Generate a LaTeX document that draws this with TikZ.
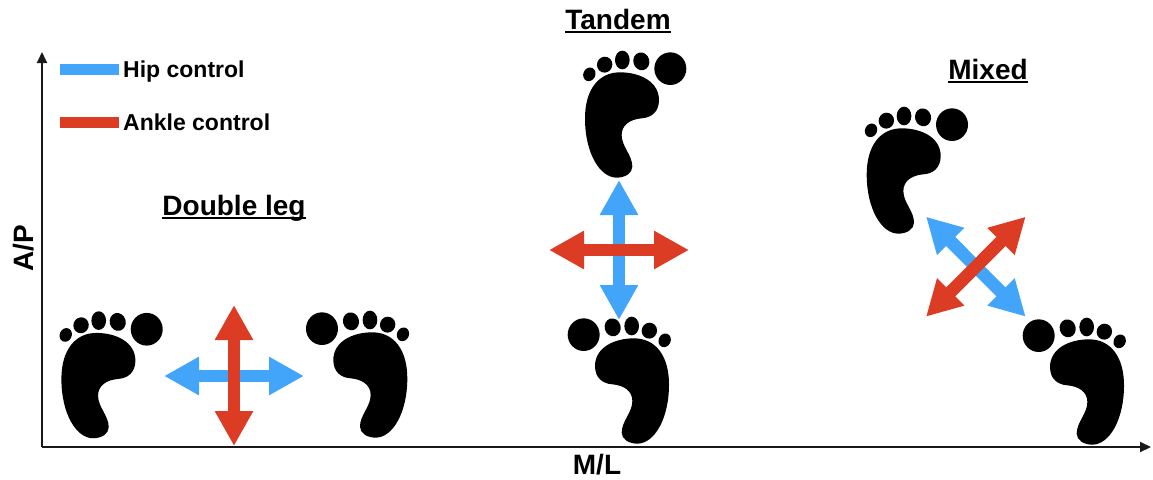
\documentclass[tikz,border=0pt]{standalone}
\usepackage{fontspec}
\setmainfont{Liberation Sans}
\usetikzlibrary{arrows.meta}
\definecolor{hipblue}{HTML}{42A5F9}
\definecolor{ankred}{HTML}{DC3C24}
\newcommand{\ulinetext}[1]{\setbox0=\hbox{#1}\rlap{\rule[-3.6pt]{\wd0}{1.5pt}}\box0 }
\tikzset{
  foot/.pic={
   \begin{scope}[#1]
    \fill[black] (240,97) .. controls (300,97) and (357,125) .. (357,180)
      .. controls (357,215) and (335,233) .. (305,235)
      .. controls (270,238) and (245,255) .. (245,285)
      .. controls (245,320) and (277,345) .. (277,380)
      .. controls (277,400) and (255,413) .. (230,413)
      .. controls (180,413) and (135,340) .. (135,235)
      .. controls (135,150) and (175,97) .. (240,97) -- cycle;
    \fill[black,rotate around={-25:(148,103)}] (148,103) ellipse [x radius=18,y radius=21];
    \fill[black,rotate around={-20:(194,74)}] (194,74) ellipse [x radius=23,y radius=24];
    \fill[black] (247,60) ellipse [x radius=22,y radius=28];
    \fill[black,rotate around={15:(304,64)}] (304,64) ellipse [x radius=24,y radius=27];
    \fill[black] (391,86) ellipse [x radius=48,y radius=49];
   \end{scope}
  },
  leftfoot/.style={x=0.3333pt,y=-0.3333pt},
  rightfoot/.style={x=-0.3333pt,y=-0.3333pt},
  dbl/.style={line width=12.8pt,{Triangle[length=35pt,width=36pt]}-{Triangle[length=35pt,width=36pt]}},
  hip/.style={dbl,draw=hipblue},
  ankle/.style={dbl,draw=ankred},
  axis/.style={draw=black!90,line width=2pt,-{Triangle[length=11pt,width=10pt]}},
  legendbar/.style={minimum width=59pt,minimum height=11.5pt,inner sep=0pt,outer sep=0pt},
  legendtext/.style={anchor=base west,inner sep=0pt,font=\fontsize{23}{26}\selectfont\bfseries},
  title/.style={anchor=base,inner sep=0pt,font=\fontsize{28}{30}\selectfont\bfseries},
  axlabel/.style={anchor=base,inner sep=0pt,font=\fontsize{28}{30}\selectfont\bfseries},
}
\begin{document}
\begin{tikzpicture}[x=1pt,y=-1pt]
\useasboundingbox (0,0) rectangle (1153,479);
% axes
\coordinate (o) at (42,447);
\coordinate (ytip) at (42,52);
\coordinate (xtip) at (1151,447);
\draw[axis] (o) -- (ytip);
\draw[axis] (o) -- (xtip);
\node[axlabel,rotate=90] (ap) at (33,248) {A/P};
\node[axlabel] (ml) at (597,474.5) {M/L};
% legend
\node[legendbar,fill=hipblue] (hipbar) at (89.5,69.7) {};
\node[legendbar,fill=ankred] (ankbar) at (89.5,122.3) {};
\node[legendtext] (hiptext) at (123,77.3) {Hip control};
\node[legendtext] (anktext) at (123,130.7) {Ankle control};
% titles
\node[title] (tdouble) at (234,215) {\ulinetext{Double leg}};
\node[title] (ttandem) at (618,29) {\ulinetext{Tandem}};
\node[title] (tmixed) at (988,79) {\ulinetext{Mixed}};
% feet
\pic (f1) at (16.4,300.6) {foot=leftfoot};
\pic (f2) at (452.3,300) {foot=rightfoot};
\pic (f3) at (540,40) {foot=leftfoot};
\pic (f4) at (714,306) {foot=rightfoot};
\pic (f5) at (821.7,96) {foot=leftfoot};
\pic (f6) at (1169,307) {foot=rightfoot};
% double leg arrows
\coordinate (a1) at (164,376); \coordinate (a2) at (304,376);
\coordinate (a3) at (234,305); \coordinate (a4) at (234,446);
\draw[hip] (a1) -- (a2);
\draw[ankle] (a3) -- (a4);
% tandem arrows
\coordinate (b1) at (619,180); \coordinate (b2) at (619,320);
\coordinate (b3) at (549,250); \coordinate (b4) at (689,250);
\draw[hip] (b1) -- (b2);
\draw[ankle] (b3) -- (b4);
% mixed arrows
\coordinate (c1) at (926,216.7); \coordinate (c2) at (1025.7,316.7);
\coordinate (c3) at (926,316.7); \coordinate (c4) at (1025.7,216.7);
\draw[hip] (c1) -- (c2);
\draw[ankle] (c3) -- (c4);
\end{tikzpicture}
\end{document}
